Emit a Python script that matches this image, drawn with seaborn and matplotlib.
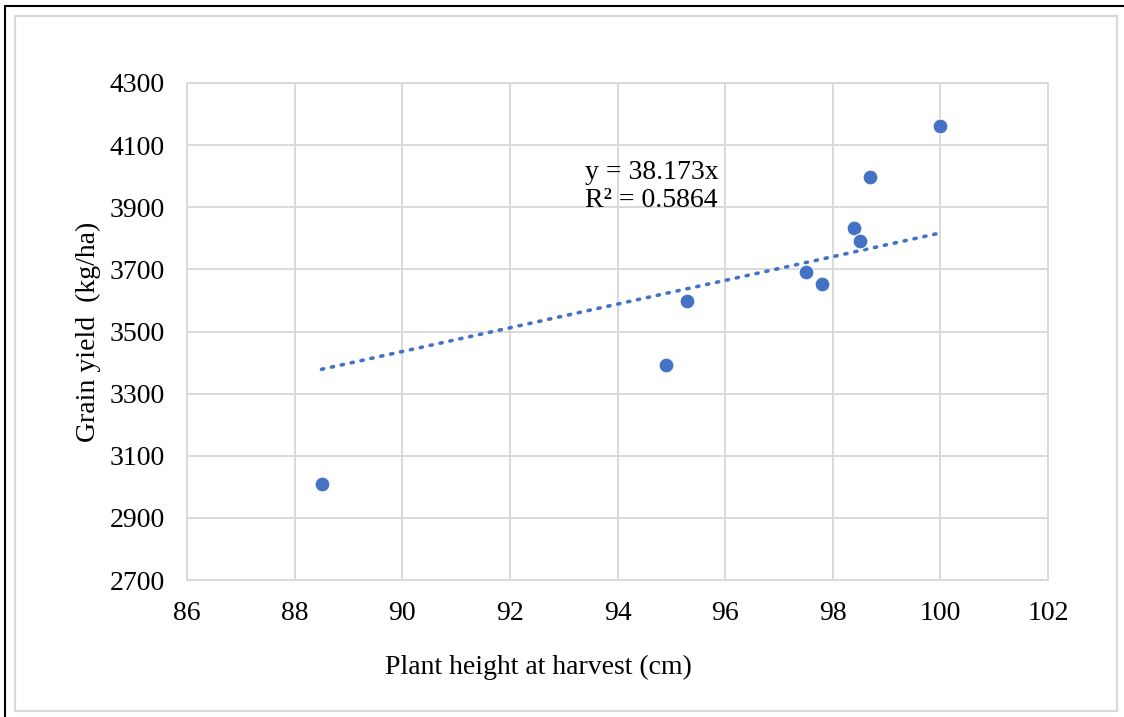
import matplotlib
matplotlib.use("Agg")
import matplotlib.pyplot as plt
import seaborn as sns
import pandas as pd
import numpy as np
from matplotlib.patches import Rectangle
from matplotlib.lines import Line2D

# Data
plant_height = [88.5, 94.9, 95.3, 97.5, 97.8, 98.4, 98.5, 98.7, 100.0]
grain_yield = [3010, 3392, 3598, 3692, 3653, 3833, 3791, 3997, 4162]
slope = 38.173
r2 = 0.5864
x_ticks = [86, 88, 90, 92, 94, 96, 98, 100, 102]
y_ticks = [2700, 2900, 3100, 3300, 3500, 3700, 3900, 4100, 4300]

sns.set_theme(style="white")
plt.rcParams['font.family'] = ['Liberation Serif', 'DejaVu Serif']
plt.rcParams['text.color'] = 'black'
plt.rcParams['axes.labelcolor'] = 'black'

blue = "#4472C4"
grid_c = "#D9D9D9"

df = pd.DataFrame({"x": plant_height, "y": grain_yield})
trend_x = [min(plant_height), max(plant_height)]
trend = pd.DataFrame({"x": trend_x, "y": [slope * v for v in trend_x]})

fig = plt.figure(figsize=(11.24, 7.17), dpi=100)
ax = fig.add_axes([187/1124, 1 - 580/717, (1048-187)/1124, (580-83)/717])

ax.set_xlim(86, 102)
ax.set_ylim(2700, 4300)
ax.set_xticks(x_ticks)
ax.set_yticks(y_ticks)
ax.grid(True, color=grid_c, linewidth=1.4)
ax.set_axisbelow(True)
for s in ax.spines.values():
    s.set_color(grid_c)
    s.set_linewidth(1.4)

sns.lineplot(data=trend, x="x", y="y", ax=ax, color=blue, linewidth=2.6,
             linestyle=(0, (0.6, 2.2)), zorder=2)
ax.lines[-1].set_dash_capstyle("round")
sns.scatterplot(data=df, x="x", y="y", ax=ax, color=blue, s=115,
                edgecolor="white", linewidth=0.8, zorder=3)

ax.tick_params(axis="both", which="both", length=0, labelsize=20, colors="black")
ax.tick_params(axis="y", pad=16)
ax.tick_params(axis="x", pad=15)
ax.set_xlabel("Plant height at harvest (cm)", fontsize=20, color="black")
ax.set_ylabel("Grain yield  (kg/ha)", fontsize=20, color="black")
ax.xaxis.label.set_va("center")
ax.xaxis.set_label_coords(0.408, -87/497)
ax.yaxis.label.set_va("center")
ax.yaxis.set_label_coords(-99/861, 0.5)

ax.text(93.4, 4013, f"y = {slope}x", fontsize=20, ha="left", va="center", color="black")
ax.text(93.4, 3923, f"R² = {r2}", fontsize=20, ha="left", va="center", color="black")

# figure borders
fig.add_artist(Rectangle((15/1124, 1 - 711/717), (1117-15)/1124, (711-16)/717,
                         transform=fig.transFigure, fill=False, edgecolor=grid_c, linewidth=1.6))
fig.add_artist(Line2D([5/1124, 5/1124], [0, 1 - 6/717], transform=fig.transFigure,
                      color="black", linewidth=1.5))
fig.add_artist(Line2D([5/1124, 1], [1 - 6/717, 1 - 6/717], transform=fig.transFigure,
                      color="black", linewidth=1.5))

fig.savefig("out.png", dpi=100)
